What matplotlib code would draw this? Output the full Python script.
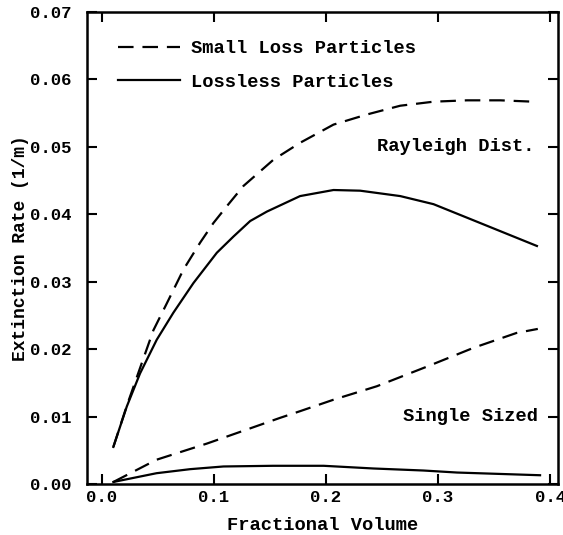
import matplotlib
matplotlib.use("Agg")
import matplotlib.pyplot as plt
from matplotlib.lines import Line2D

# Data
ray_loss_x = [0.0105, 0.0225, 0.0343, 0.0462, 0.0582, 0.073, 0.0879, 0.0997, 0.1117, 0.1265,
              0.1533, 0.177, 0.2068, 0.2366, 0.2663, 0.296, 0.3258, 0.3555, 0.3850]
ray_loss_y = [0.0055, 0.0116, 0.0172, 0.0228, 0.0268, 0.0318, 0.0358, 0.0387, 0.0412, 0.0442,
              0.0481, 0.0506, 0.0533, 0.0548, 0.0561, 0.0567, 0.0569, 0.0569, 0.0567]

ray_lossless_x = [0.0105, 0.0225, 0.0343, 0.0492, 0.064, 0.0819, 0.1028, 0.1176, 0.1325,
                  0.1474, 0.177, 0.2068, 0.2306, 0.2663, 0.296, 0.3258, 0.3555, 0.3882]
ray_lossless_y = [0.0055, 0.0115, 0.0164, 0.0214, 0.0254, 0.0298, 0.0343, 0.0367, 0.0390,
                  0.0404, 0.0427, 0.0436, 0.0435, 0.0427, 0.0415, 0.0395, 0.0375, 0.0353]

single_loss_x = [0.0105, 0.049, 0.094, 0.159, 0.177, 0.2068, 0.2455, 0.290, 0.3317, 0.370, 0.389]
single_loss_y = [0.0003, 0.0036, 0.0060, 0.0098, 0.0108, 0.0125, 0.0145, 0.0174, 0.0202, 0.0224, 0.0230]

single_lossless_x = [0.0105, 0.049, 0.079, 0.1087, 0.153, 0.198, 0.2425, 0.287, 0.317, 0.391]
single_lossless_y = [0.0003, 0.0016, 0.0022, 0.0026, 0.0027, 0.0027, 0.0023, 0.0020, 0.0017, 0.0013]

xticks = [0.0, 0.1, 0.2, 0.3, 0.4]
xticklabels = ["0.0", "0.1", "0.2", "0.3", "0.4"]
yticks = [0.00, 0.01, 0.02, 0.03, 0.04, 0.05, 0.06, 0.07]
yticklabels = ["0.00", "0.01", "0.02", "0.03", "0.04", "0.05", "0.06", "0.07"]

series_labels = ["Small Loss Particles", "Lossless Particles"]

plt.rcParams['font.family'] = ['Liberation Mono', 'DejaVu Sans']
plt.rcParams['font.weight'] = 'bold'

fig = plt.figure(figsize=(5.63, 5.35), dpi=100)
ax = fig.add_axes([87/563, 1-484/535, (558-87)/563, (484-12)/535])

lw = 1.6
dash = (7, 4)
ax.plot(ray_loss_x, ray_loss_y, color='black', lw=lw, dashes=dash)
ax.plot(ray_lossless_x, ray_lossless_y, color='black', lw=lw)
ax.plot(single_loss_x, single_loss_y, color='black', lw=lw, dashes=dash)
ax.plot(single_lossless_x, single_lossless_y, color='black', lw=lw)

ax.set_xlim(-0.013, 0.407)
ax.set_ylim(0.0, 0.07)
ax.set_xticks(xticks)
ax.set_xticklabels(xticklabels)
ax.set_yticks(yticks)
ax.set_yticklabels(yticklabels)

ax.tick_params(direction='in', length=7, width=1.5, top=True, right=True,
               labelsize=12.5)
ax.tick_params(axis='x', pad=4)
ax.tick_params(axis='y', pad=11)
for s in ax.spines.values():
    s.set_linewidth(1.8)

ax.set_xlabel("Fractional Volume", fontsize=13.5, fontweight='bold', labelpad=9)
ax.set_ylabel("Extinction Rate (1/m)", fontsize=13, fontweight='bold', labelpad=1)

ax.text(0.386, 0.0501, "Rayleigh Dist.", ha='right', va='center', fontsize=13.5, fontweight='bold')
ax.text(0.389, 0.0100, "Single Sized", ha='right', va='center', fontsize=13.5, fontweight='bold')

handles = [Line2D([], [], color='black', lw=lw, dashes=dash),
           Line2D([], [], color='black', lw=lw)]
ax.legend(handles, series_labels,
          loc='upper left', bbox_to_anchor=(0.066, 0.940), frameon=False,
          borderpad=0, borderaxespad=0,
          handlelength=3.3, handletextpad=0.6, labelspacing=0.85,
          prop={'family': 'Liberation Mono', 'weight': 'bold', 'size': 13.5})

fig.savefig("out.png", dpi=100)
